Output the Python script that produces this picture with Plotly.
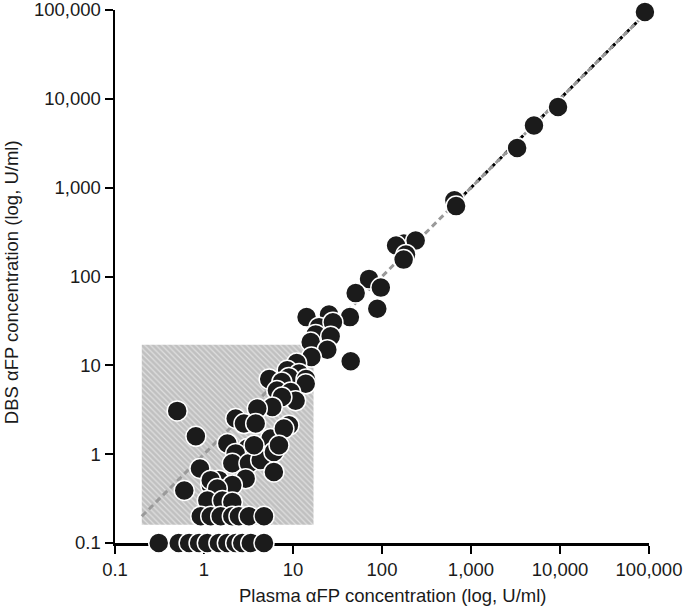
import plotly.graph_objects as go

# Plasma αFP (x) and DBS αFP (y), U/ml
plasma = [90000, 9500, 5100, 3300, 650, 680, 176, 239, 144, 186, 175,
          71.5, 97, 50.6, 88.5, 14.2, 25.4, 43.6, 19.6, 28.1, 18, 26.5,
          15.8, 24.3, 16.1, 44.5, 11, 8.6, 11.7, 5.4, 9.0, 14, 7.5, 13.9,
          6.6, 9.4, 10.7, 7.5, 5.85, 3.97, 2.27, 2.81, 9.0, 0.50, 0.81,
          0.90, 0.60, 1.83, 3.07, 5.6, 2.27, 2.08, 3.2, 4.33, 6.1, 6.1,
          2.94, 1.47, 1.19, 2.08, 3.81, 7.9, 6.96, 3.65, 1.19, 1.41, 1.09,
          1.61, 2.08,
          0.92, 1.19, 1.54, 2.08, 2.47, 3.2, 4.72,
          0.31, 0.52, 0.68, 0.88, 1.09, 1.47, 1.83, 2.27, 2.69, 3.35, 4.72]
dbs = [95000, 8100, 5000, 2800, 720, 620, 235, 254, 223, 177, 155,
       94, 75, 65, 43.4, 34.9, 37.4, 34.9, 26.9, 30.6, 22.3, 21.2,
       18.3, 15.0, 12.4, 11.1, 10.6, 8.8, 8.1, 7.0, 7.3, 7.0, 6.5, 6.2,
       5.2, 5.0, 4.0, 4.4, 3.4, 3.26, 2.52, 2.21, 2.12, 3.07, 1.59,
       0.69, 0.39, 1.32, 1.16, 1.50, 1.02, 0.79, 0.79, 0.86, 1.06, 0.63,
       0.53, 0.51, 0.45, 0.45, 2.21, 1.94, 1.26, 1.26, 0.51, 0.41, 0.30,
       0.30, 0.29,
       0.2, 0.2, 0.2, 0.2, 0.2, 0.2, 0.2,
       0.1, 0.1, 0.1, 0.1, 0.1, 0.1, 0.1, 0.1, 0.1, 0.1, 0.1]

box_x = [0.2, 17, 17, 0.2, 0.2]
box_y = [0.16, 0.16, 17, 17, 0.16]
identity = [0.2, 100000]
fit = [800, 100000]

tick_vals = [0.1, 1, 10, 100, 1000, 10000, 100000]
tick_text = ["0.1", "1", "10", "100", "1,000", "10,000", "100,000"]

x_title = "Plasma αFP concentration (log, U/ml)"
y_title = "DBS αFP concentration (log, U/ml)"

fig = go.Figure()
fig.add_trace(go.Scatter(
    x=box_x, y=box_y, mode="none", fill="toself",
    fillcolor="#c6c6c6",
    fillpattern=dict(shape="\\", bgcolor="#c0c0c0", fgcolor="white",
                     size=4, solidity=0.3),
    hoverinfo="skip", showlegend=False))
fig.add_trace(go.Scatter(
    x=fit, y=fit, mode="lines",
    line=dict(color="black", width=3, dash="6px,4px"),
    showlegend=False, hoverinfo="skip"))
fig.add_trace(go.Scatter(
    x=identity, y=identity, mode="lines",
    line=dict(color="#9a9a9a", width=3, dash="6px,4px"),
    showlegend=False, hoverinfo="skip"))
fig.add_trace(go.Scatter(
    x=plasma, y=dbs, mode="markers", cliponaxis=False,
    marker=dict(size=20, color="#1b1b1b", line=dict(color="white", width=1.5)),
    showlegend=False))

axis_common = dict(
    type="log", range=[-1, 5], tickvals=tick_vals, ticktext=tick_text,
    showgrid=False, zeroline=False, showline=True, linecolor="black",
    linewidth=2.5, ticks="outside", ticklen=8, tickwidth=2,
    tickcolor="black", layer="below traces", automargin=False,
    ticklabeloverflow="allow",
    tickfont=dict(size=18.5, color="#1a1a1a"),
)
fig.update_xaxes(**axis_common)
fig.update_yaxes(**axis_common)
fig.update_layout(
    width=685, height=611,
    margin=dict(l=115, r=36, t=10, b=68),
    plot_bgcolor="white", paper_bgcolor="white",
    font=dict(family="Liberation Sans, Arial, sans-serif"),
    hovermode=False,
    annotations=[
        dict(text=x_title, xref="paper", yref="paper", x=0.52, y=-0.098,
             xanchor="center", yanchor="middle", showarrow=False,
             font=dict(size=18.5, color="#1a1a1a")),
        dict(text=y_title, xref="paper", yref="paper", x=-0.194, y=0.49,
             xanchor="center", yanchor="middle", showarrow=False,
             textangle=-90, font=dict(size=18.5, color="#1a1a1a")),
    ],
)
fig.write_html("out.html",
               config={"displayModeBar": False, "staticPlot": True},
               post_script="document.body.style.margin='0';"
                           "document.body.style.overflow='hidden';")
